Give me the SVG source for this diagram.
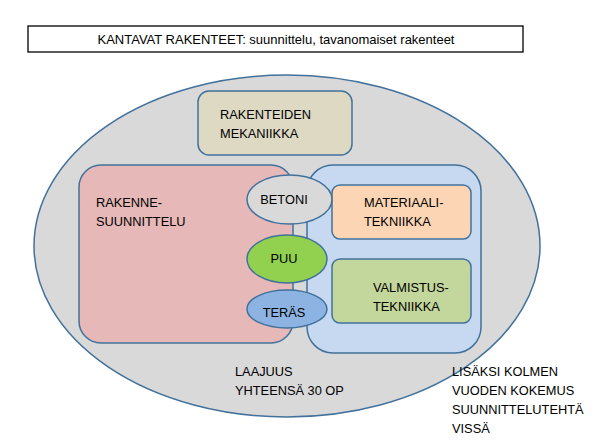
<svg xmlns="http://www.w3.org/2000/svg" width="605" height="445" viewBox="0 0 605 445">
<style>
text{font-family:"Liberation Sans",Arial,sans-serif;font-size:12.8px;fill:#000}
.s{stroke:#41719c;stroke-width:1.5}
</style>
<rect width="605" height="445" fill="#fff"/>
<g id="title">
<rect x="28" y="26" width="495" height="26" fill="#fff" stroke="#000" stroke-width="1.3"/>
<text x="276" y="44" text-anchor="middle" textLength="357" lengthAdjust="spacingAndGlyphs">KANTAVAT RAKENTEET: suunnittelu, tavanomaiset rakenteet</text>
</g>
<g id="outer">
<ellipse cx="287" cy="246" rx="253" ry="171" fill="#d9d9d9" class="s"/>
</g>
<g id="mekaniikka">
<rect x="198" y="91" width="154" height="64" rx="11" fill="#ddd9c3" class="s"/>
<text x="220" y="119">RAKENTEIDEN</text>
<text x="220" y="138">MEKANIIKKA</text>
</g>
<g id="blue">
<rect x="307" y="165" width="174" height="188" rx="26" fill="#c6d9f1" class="s"/>
</g>
<g id="rakennesuunnittelu">
<rect x="79" y="165" width="214" height="178" rx="22" fill="#e6b8b7" class="s"/>
<text x="96" y="207">RAKENNE-</text>
<text x="96" y="226">SUUNNITTELU</text>
</g>
<g id="materiaali">
<rect x="332" y="185" width="139" height="54" rx="8" fill="#fcd5b5" class="s"/>
<text x="364" y="207">MATERIAALI-</text>
<text x="364" y="226">TEKNIIKKA</text>
</g>
<g id="valmistus">
<rect x="332" y="259" width="139" height="64" rx="8" fill="#c3d69b" class="s"/>
<text x="373" y="292">VALMISTUS-</text>
<text x="373" y="311">TEKNIIKKA</text>
</g>
<g id="betoni">
<ellipse cx="289.5" cy="199.5" rx="42.5" ry="24.5" fill="#d9d9d9" class="s"/>
<text x="284" y="203.5" text-anchor="middle">BETONI</text>
</g>
<g id="puu">
<ellipse cx="287" cy="259" rx="40" ry="24" fill="#92d050" class="s"/>
<text x="284" y="263" text-anchor="middle">PUU</text>
</g>
<g id="teras">
<ellipse cx="287" cy="309" rx="40" ry="19" fill="#8db3e2" class="s"/>
<text x="284" y="317" text-anchor="middle">TERÄS</text>
</g>
<g id="laajuus">
<text x="235" y="376">LAAJUUS</text>
<text x="235" y="395">YHTEENSÄ 30 OP</text>
</g>
<g id="lisaksi">
<text x="452" y="376">LISÄKSI KOLMEN</text>
<text x="452" y="395">VUODEN KOKEMUS</text>
<text x="452" y="414">SUUNNITTELUTEHTÄ</text>
<text x="452" y="433">VISSÄ</text>
</g>
<g id="connectors"></g>
</svg>
